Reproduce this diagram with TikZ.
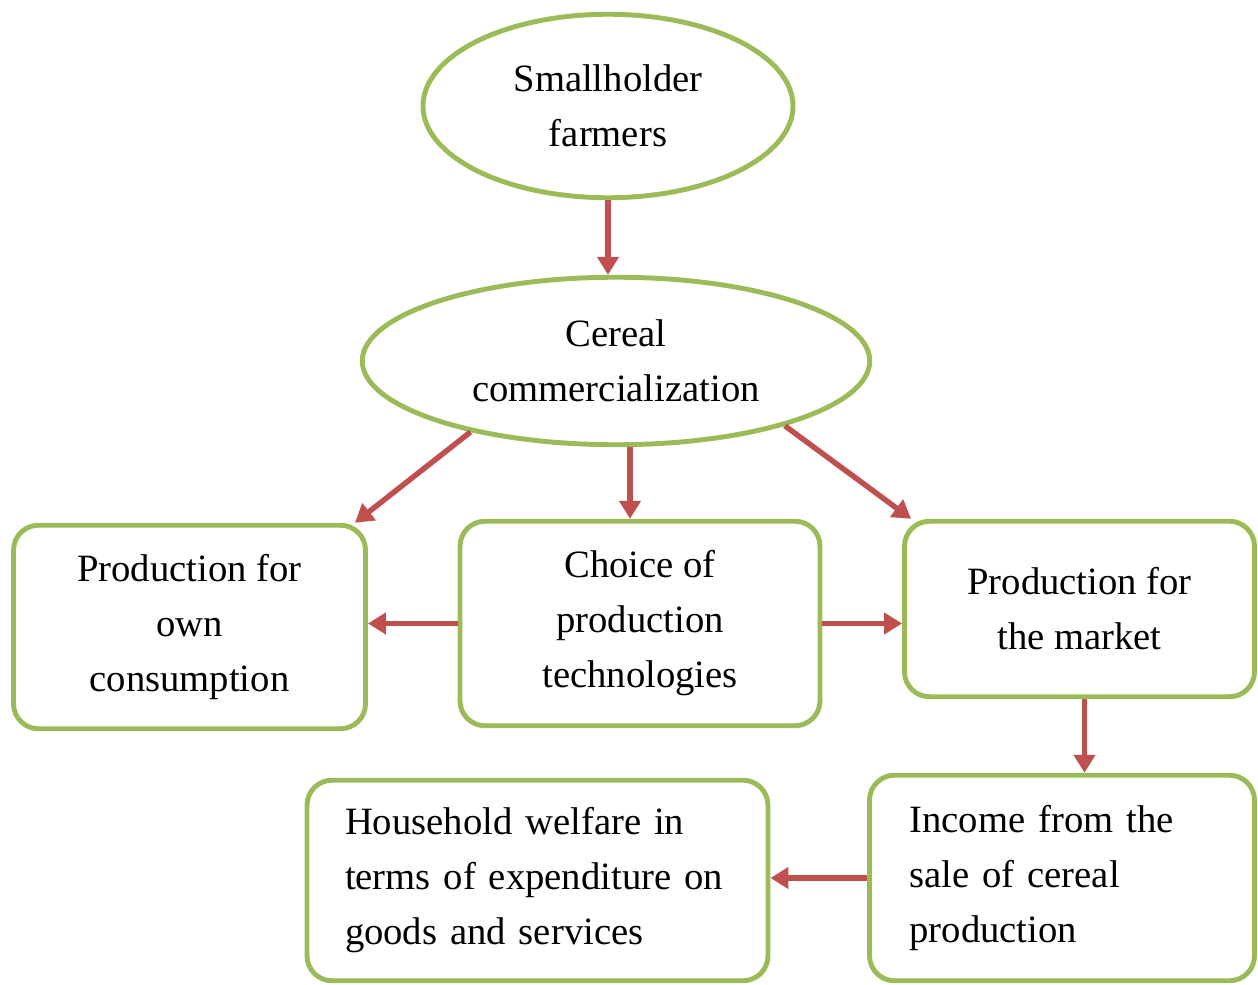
\documentclass[tikz,border=0pt]{standalone}
\usepackage{fontspec}
\setmainfont{Liberation Serif}
\usetikzlibrary{arrows.meta,shapes.geometric}
\definecolor{boxgreen}{RGB}{155,187,89}
\definecolor{arrowred}{RGB}{192,80,77}
\tikzset{
	oval/.style={draw=boxgreen, line width=2.8pt, ellipse, inner sep=0pt, align=center, font=\fontsize{22}{31.3}\selectfont},
	roundbox/.style={draw=boxgreen, line width=2.8pt, rounded corners=0.5cm, inner sep=0pt, align=center, font=\fontsize{22}{31.3}\selectfont},
	leftbox/.style={roundbox, align=left, inner xsep=#1},
	flow/.style={draw=arrowred, line width=3.1pt, -{Triangle[length=0.36cm,width=0.42cm]}}
}

\begin{document}
\begin{tikzpicture}
	\useasboundingbox (0,0) rectangle (25.16,-19.7);

	\node[oval, minimum width=7.4cm, minimum height=3.67cm] at (12.16,-2.12) (smallholder-farmers) {Smallholder\\farmers};
	\node[oval, minimum width=10.15cm, minimum height=3.35cm] at (12.32,-7.22) (cereal-comm) {Cereal\\commercialization};

	\node[roundbox, minimum width=7.04cm, minimum height=4.07cm] at (3.79,-12.54) (own-consumption) {Production for\\own\\consumption};
	\node[roundbox, minimum width=7.2cm, minimum height=4.09cm] at (12.8,-12.47) (choice-tech) {Choice of\\production\\technologies};
	\node[roundbox, minimum width=7cm, minimum height=3.51cm] at (21.59,-12.18) (market-production) {Production for\\the market};

	\node[leftbox=0.8cm, text width=6.1cm, minimum height=4.11cm] at (21.24,-17.56) (sale-income) {Income from the\\sale of cereal\\production};
	\node[leftbox=0.76cm, text width=7.7cm, minimum height=4.01cm] at (10.75,-17.61) (household-welfare) {Household welfare in\\terms of expenditure on\\goods and services};

	% arrows
	\draw[flow] (smallholder-farmers.south) to (smallholder-farmers.south |- cereal-comm.north);
	\draw[flow] (cereal-comm.206) to ([xshift=-0.26cm]own-consumption.north east);
	\draw[flow] ([xshift=0.28cm]cereal-comm.south) to ([xshift=-0.2cm]choice-tech.north);
	\draw[flow] (cereal-comm.-21) to ([xshift=0.18cm]market-production.north west);
	\draw[flow] (choice-tech.west) to (choice-tech.west -| own-consumption.east);
	\draw[flow] (choice-tech.east) to (choice-tech.east -| market-production.west);
	\draw[flow] ([xshift=0.1cm]market-production.south) to ([xshift=0.1cm]market-production.south |- sale-income.north);
	\draw[flow] (sale-income.west) to (sale-income.west -| household-welfare.east);
\end{tikzpicture}
\end{document}
